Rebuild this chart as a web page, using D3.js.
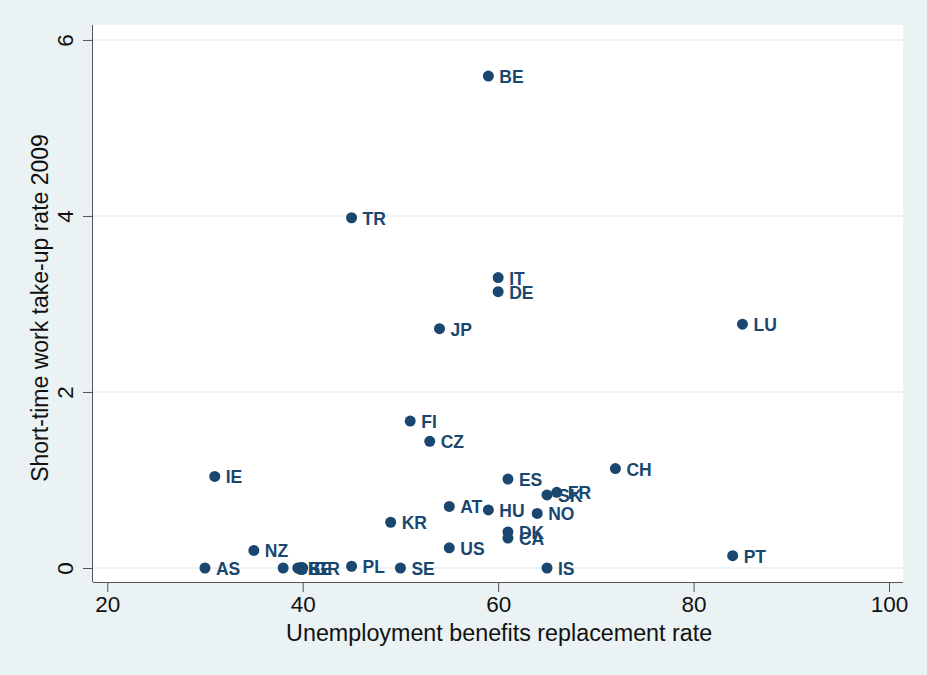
<!DOCTYPE html>
<html>
<head>
<meta charset="utf-8">
<script src="https://cdn.jsdelivr.net/npm/d3@7"></script>
<style>
  html, body { margin: 0; padding: 0; background: #EAF2F3; }
  svg { display: block; font-family: "Liberation Sans", Arial, sans-serif; }
</style>
</head>
<body>
<svg id="chart" width="927" height="675"></svg>
<script>
const countries   = ["AS","IE","NZ","GB","EE","GR","PL","TR","KR","SE","FI","CZ","JP","AT","US","BE","HU","IT","DE","ES","DK","CA","NO","SK","IS","FR","CH","PT","LU"];
const replacement = [30, 31, 35, 38, 39.5, 40.0, 45, 45, 49, 50, 51, 53, 54, 55, 55, 59, 59, 60, 60, 61, 61, 61, 64, 65, 65, 66, 72, 84, 85];
const takeup      = [0, 1.04, 0.2, 0, 0, 0, 0.02, 3.98, 0.52, 0, 1.67, 1.44, 2.72, 0.70, 0.23, 5.59, 0.66, 3.30, 3.14, 1.01, 0.41, 0.34, 0.62, 0.83, 0, 0.86, 1.13, 0.14, 2.77];
const xTicks = [20, 40, 60, 80, 100];
const yTicks = [0, 2, 4, 6];
const xTitle = "Unemployment benefits replacement rate";
const yTitle = "Short-time work take-up rate 2009";

const svg = d3.select("#chart");
const L = 93, R = 903, T = 25, B = 582;
const x = d3.scaleLinear().domain([18.54, 101.43]).range([L, R]);
const y = d3.scaleLinear().domain([-0.159, 6.17]).range([B, T]);
const navy = "#1A476F";

svg.append("rect").attr("width", 927).attr("height", 675).attr("fill", "#EAF2F3");
svg.append("rect").attr("x", L).attr("y", T).attr("width", R - L).attr("height", B - T).attr("fill", "#ffffff");

// gridlines
svg.append("g").selectAll("line").data(yTicks).join("line")
  .attr("x1", L).attr("x2", R)
  .attr("y1", d => y(d)).attr("y2", d => y(d))
  .attr("stroke", "#EAF2F3").attr("stroke-width", 1.5);

// axes
const xAxis = d3.axisBottom(x).tickValues(xTicks).tickSize(10).tickPadding(4).tickFormat(d3.format("d"));
const gx = svg.append("g").attr("transform", `translate(0,${B})`).call(xAxis);
gx.select(".domain").attr("d", `M${L},0.5H${R}`).attr("stroke", "#555");
gx.selectAll(".tick line").attr("stroke", "#555");
gx.selectAll(".tick text").attr("font-size", 22.5).attr("fill", "#111").attr("font-family", "Liberation Sans, Arial, sans-serif");

const yAxis = d3.axisLeft(y).tickValues(yTicks).tickSize(10).tickPadding(0).tickFormat(d3.format("d"));
const gy = svg.append("g").attr("transform", `translate(${L},0)`).call(yAxis);
gy.select(".domain").attr("d", `M-0.5,${T}V${B}`).attr("stroke", "#555");
gy.selectAll(".tick line").attr("stroke", "#555");
gy.selectAll(".tick text")
  .attr("font-size", 22.5).attr("fill", "#111").attr("font-family", "Liberation Sans, Arial, sans-serif")
  .attr("x", null).attr("dy", null)
  .attr("text-anchor", "middle")
  .attr("transform", "translate(-20,0) rotate(-90)");

// titles
svg.append("text").attr("x", (x(20) + x(100)) / 2 + 1).attr("y", 641)
  .attr("text-anchor", "middle").attr("font-size", 23.3).attr("fill", "#111").text(xTitle);
svg.append("text").attr("transform", `translate(48,${(y(0) + y(6)) / 2 + 4}) rotate(-90)`)
  .attr("text-anchor", "middle").attr("font-size", 23).attr("fill", "#111").text(yTitle);

// points
const pts = countries.map((c, i) => ({c, x: replacement[i], y: takeup[i]}));
const g = svg.append("g").selectAll("g").data(pts).join("g");
g.append("circle").attr("cx", d => x(d.x)).attr("cy", d => y(d.y)).attr("r", 5.5).attr("fill", navy);
g.append("text").attr("x", d => x(d.x) + 11).attr("y", d => y(d.y) + 7)
  .attr("font-size", 17.5).attr("font-weight", "bold").attr("fill", navy).text(d => d.c);
</script>
</body>
</html>
